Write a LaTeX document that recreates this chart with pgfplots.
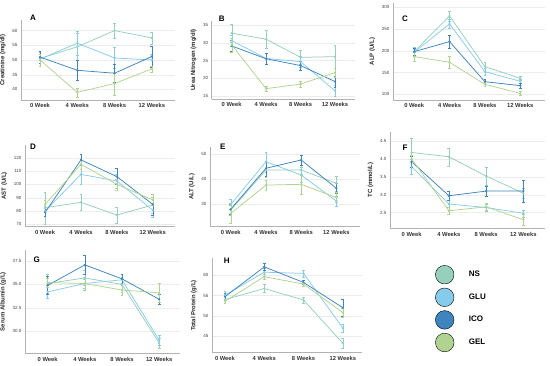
\documentclass[border=0pt]{standalone}
\usepackage{pgfplots}
\pgfplotsset{compat=1.18}
\usepackage{fontspec}
\setmainfont{Liberation Sans}
\definecolor{NS}{RGB}{150,208,188}
\definecolor{GLU}{RGB}{135,203,234}
\definecolor{ICO}{RGB}{62,132,190}
\definecolor{GEL}{RGB}{176,211,146}
\pgfplotsset{
 pan/.style={scale only axis, anchor=south west,
  axis lines=left, axis line style={draw=gray!60, line width=0.5pt, -},
  xtick={0,1,2,3}, xticklabels={0 Week,4 Weeks,8 Weeks,12 Weeks},
  x tick label style={font=\bfseries\fontsize{5.8}{6}\selectfont, text=black!80},
  y tick label style={font=\fontsize{4.5}{5}\selectfont, text=black!75},
  ylabel style={font=\bfseries\fontsize{6}{7}\selectfont, text=black!85},
  major tick length=0pt,
  ymajorgrids, grid style={draw=gray!15, line width=0.3pt},
  /pgf/number format/assume math mode=true,
  clip=false,
 },
 ser/.style={color=#1, line width=0.75pt, mark=*, mark size=0.7pt,
  error bars/.cd, y dir=both, y explicit,
  error bar style={line width=0.35pt, color=#1},
  error mark options={rotate=90, mark size=1.4pt, line width=0.35pt, color=#1}},
}
\begin{document}
\begin{tikzpicture}
\path[use as bounding box] (0pt,0pt) rectangle (550pt,-366pt);
% A
\begin{axis}[pan, at={(21pt,-100pt)}, width=154pt, height=80pt,
 xmin=-0.51, xmax=3.62, ymin=36.4, ymax=63.6, ytick={40,45,50,55,60},
 ylabel={Creatinine (mg/dl)}]
\addplot[ser=NS] coordinates {(0,50.5)+-(0,2.5) (1,54.5)+-(0,4.5) (2,60)+-(0,2.5) (3,57.5)+-(0,2)};
\addplot[ser=GLU] coordinates {(0,50.3)+-(0,2.5) (1,55.7)+-(0,4) (2,50.7)+-(0,3.5) (3,50)+-(0,2)};
\addplot[ser=ICO] coordinates {(0,51)+-(0,2) (1,46.5)+-(0,3.5) (2,45.5)+-(0,3) (3,51.2)+-(0,3.5)};
\addplot[ser=GEL] coordinates {(0,50)+-(0,2) (1,39)+-(0,1.5) (2,42)+-(0,4) (3,47)+-(0,1)};
\end{axis}
% B
\begin{axis}[pan, at={(211.7pt,-99pt)}, width=143.3pt, height=78.3pt,
 xmin=-0.58, xmax=3.58, ymin=14.2, ymax=36.2, ytick={15,20,25,30,35},
 ylabel={Urea Nitrogen (mg/dl)}]
\addplot[ser=NS] coordinates {(0,32.7)+-(0,2.5) (1,31)+-(0,2.5) (2,25.9)+-(0,2) (3,26.1)+-(0,3.3)};
\addplot[ser=GLU] coordinates {(0,30.6)+-(0,1.5) (1,25.6)+-(0,1.5) (2,24.7)+-(0,1.5) (3,16.5)+-(0,1.5)};
\addplot[ser=ICO] coordinates {(0,29.1)+-(0,1.5) (1,25.5)+-(0,1.5) (2,23.6)+-(0,1.2) (3,19.1)+-(0,1.5)};
\addplot[ser=GEL] coordinates {(0,29.4)+-(0,2) (1,17.1)+-(0,0.8) (2,18.4)+-(0,0.8) (3,21.6)+-(0,1.2)};
\end{axis}
% C
\begin{axis}[pan, at={(393pt,-100pt)}, width=152pt, height=96.7pt,
 xmin=-0.6, xmax=3.7, ymin=87, ymax=309, ytick={100,150,200,250,300},
 ylabel={ALP (U/L)}]
\addplot[ser=NS] coordinates {(0,198)+-(0,10) (1,280)+-(0,12) (2,163.6)+-(0,10) (3,136.8)+-(0,5)};
\addplot[ser=GLU] coordinates {(0,196.6)+-(0,8) (1,261.7)+-(0,10) (2,152)+-(0,8) (3,130)+-(0,5)};
\addplot[ser=ICO] coordinates {(0,198)+-(0,8) (1,221)+-(0,15) (2,129)+-(0,5) (3,120)+-(0,6)};
\addplot[ser=GEL] coordinates {(0,186.6)+-(0,10) (1,173.6)+-(0,13) (2,123)+-(0,5) (3,102.3)+-(0,5)};
\end{axis}
% D
\begin{axis}[pan, at={(25pt,-226.7pt)}, width=150pt, height=81.7pt,
 xmin=-0.56, xmax=3.62, ymin=68.25, ymax=129.5, ytick={70,80,90,100,110,120},
 ylabel={AST (U/L)}]
\addplot[ser=NS] coordinates {(0,82.5)+-(0,12) (1,86.5)+-(0,6) (2,77)+-(0,6) (3,84.5)+-(0,6)};
\addplot[ser=GLU] coordinates {(0,80)+-(0,4) (1,107.5)+-(0,7) (2,102.5)+-(0,5) (3,80.7)+-(0,5)};
\addplot[ser=ICO] coordinates {(0,79)+-(0,3) (1,118.3)+-(0,4) (2,105.8)+-(0,6) (3,85)+-(0,8)};
\addplot[ser=GEL] coordinates {(0,85)+-(0,3) (1,115)+-(0,4) (2,100)+-(0,4) (3,88.3)+-(0,4)};
\end{axis}
% E
\begin{axis}[pan, at={(210pt,-226.7pt)}, width=150pt, height=80pt,
 xmin=-0.59, xmax=3.67, ymin=21.1, ymax=53, ytick={30,40,50},
 ylabel={ALT (U/L)}]
\addplot[ser=NS] coordinates {(0,27.7)+-(0,2) (1,43.7)+-(0,3) (2,43.7)+-(0,2) (3,38.4)+-(0,3)};
\addplot[ser=GLU] coordinates {(0,30)+-(0,2) (1,47)+-(0,4) (2,41.7)+-(0,3) (3,31.3)+-(0,2)};
\addplot[ser=ICO] coordinates {(0,28.1)+-(0,2) (1,44.4)+-(0,3) (2,47.7)+-(0,2) (3,36.4)+-(0,2)};
\addplot[ser=GEL] coordinates {(0,26.4)+-(0,4) (1,37.7)+-(0,2) (2,38)+-(0,4) (3,32.7)+-(0,2)};
\end{axis}
% F
\begin{axis}[pan, at={(390pt,-228.3pt)}, width=155pt, height=96.6pt,
 xmin=-0.58, xmax=3.58, ymin=2.06, ymax=4.76, ytick={2.5,3.0,3.5,4.0,4.5},
 yticklabel style={/pgf/number format/.cd, fixed, fixed zerofill, precision=1},
 ylabel={TC (mmol/L)}]
\addplot[ser=NS] coordinates {(0,4.18)+-(0,0.4) (1,4.06)+-(0,0.25) (2,3.52)+-(0,0.25) (3,3.04)+-(0,0.15)};
\addplot[ser=GLU] coordinates {(0,3.78)+-(0,0.2) (1,2.74)+-(0,0.1) (2,2.64)+-(0,0.1) (3,2.48)+-(0,0.1)};
\addplot[ser=ICO] coordinates {(0,3.92)+-(0,0.15) (1,2.97)+-(0,0.12) (2,3.1)+-(0,0.15) (3,3.1)+-(0,0.3)};
\addplot[ser=GEL] coordinates {(0,4.0)+-(0,0.1) (1,2.55)+-(0,0.1) (2,2.66)+-(0,0.1) (3,2.3)+-(0,0.15)};
\end{axis}
% G
\begin{axis}[pan, at={(25pt,-353.3pt)}, width=155pt, height=103.3pt,
 xmin=-0.61, xmax=3.56, ymin=27.6, ymax=38.7, ytick={30,32.5,35,37.5},
 yticklabel style={/pgf/number format/.cd, fixed, fixed zerofill, precision=1},
 ylabel={Serum Albumin (g/L)}]
\addplot[ser=NS] coordinates {(0,35.1)+-(0,1) (1,35.7)+-(0,0.8) (2,35.0)+-(0,0.8) (3,28.7)+-(0,0.5)};
\addplot[ser=GLU] coordinates {(0,34.2)+-(0,0.7) (1,35.1)+-(0,0.7) (2,35.5)+-(0,0.6) (3,29.0)+-(0,0.5)};
\addplot[ser=ICO] coordinates {(0,34.9)+-(0,1) (1,37.1)+-(0,1) (2,35.6)+-(0,0.5) (3,33.4)+-(0,0.5)};
\addplot[ser=GEL] coordinates {(0,35.2)+-(0,0.5) (1,35.1)+-(0,0.5) (2,34.4)+-(0,0.6) (3,34.1)+-(0,1)};
\end{axis}
% H
\begin{axis}[pan, at={(212pt,-352.7pt)}, width=149.7pt, height=94.4pt,
 xmin=-0.33, xmax=3.48, ymin=41, ymax=64.1, ytick={45,50,55,60},
 ylabel={Total Protein (g/L)}]
\addplot[ser=NS] coordinates {(0,54.0)+-(0,1) (1,56.7)+-(0,1) (2,53.9)+-(0,0.8) (3,43.3)+-(0,1.2)};
\addplot[ser=GLU] coordinates {(0,55.1)+-(0,1) (1,60.7)+-(0,1) (2,60.4)+-(0,0.8) (3,47.0)+-(0,1)};
\addplot[ser=ICO] coordinates {(0,54.7)+-(0,0.8) (1,62.0)+-(0,0.8) (2,58.2)+-(0,0.5) (3,52.0)+-(0,2)};
\addplot[ser=GEL] coordinates {(0,53.6)+-(0,0.5) (1,59.6)+-(0,0.5) (2,57.8)+-(0,0.5) (3,50.8)+-(0,1)};
\end{axis}
% legend
\begin{axis}[at={(0pt,-366pt)}, anchor=south west, scale only axis, width=550pt, height=366pt,
 xmin=0, xmax=550, ymin=-366, ymax=0, hide axis,
 legend image code/.code={\fill[#1] (0pt,0pt) circle (9.3pt);},
 legend style={at={(axis cs:435,-265)}, anchor=north west, draw=none, fill=none,
  inner sep=0pt, row sep=3.6pt, column sep=14.7pt,
  font=\bfseries\fontsize{8}{9}\selectfont,
  nodes={inner sep=0pt, anchor=west}}]
\addlegendimage{fill=NS}\addlegendentry{NS}
\addlegendimage{fill=GLU}\addlegendentry{GLU}
\addlegendimage{fill=ICO}\addlegendentry{ICO}
\addlegendimage{fill=GEL}\addlegendentry{GEL}
\end{axis}
\begin{scope}[every node/.style={font=\bfseries\fontsize{8}{9}\selectfont, inner sep=0pt}]
\node at (33pt,-18pt) {A};
\node at (221.7pt,-18.3pt) {B};
\node at (405pt,-19pt) {C};
\node at (33pt,-146.7pt) {D};
\node at (222.7pt,-146.7pt) {E};
\node at (405pt,-147.3pt) {F};
\node at (36.7pt,-260pt) {G};
\node at (226.7pt,-261pt) {H};
\end{scope}
\end{tikzpicture}
\end{document}
